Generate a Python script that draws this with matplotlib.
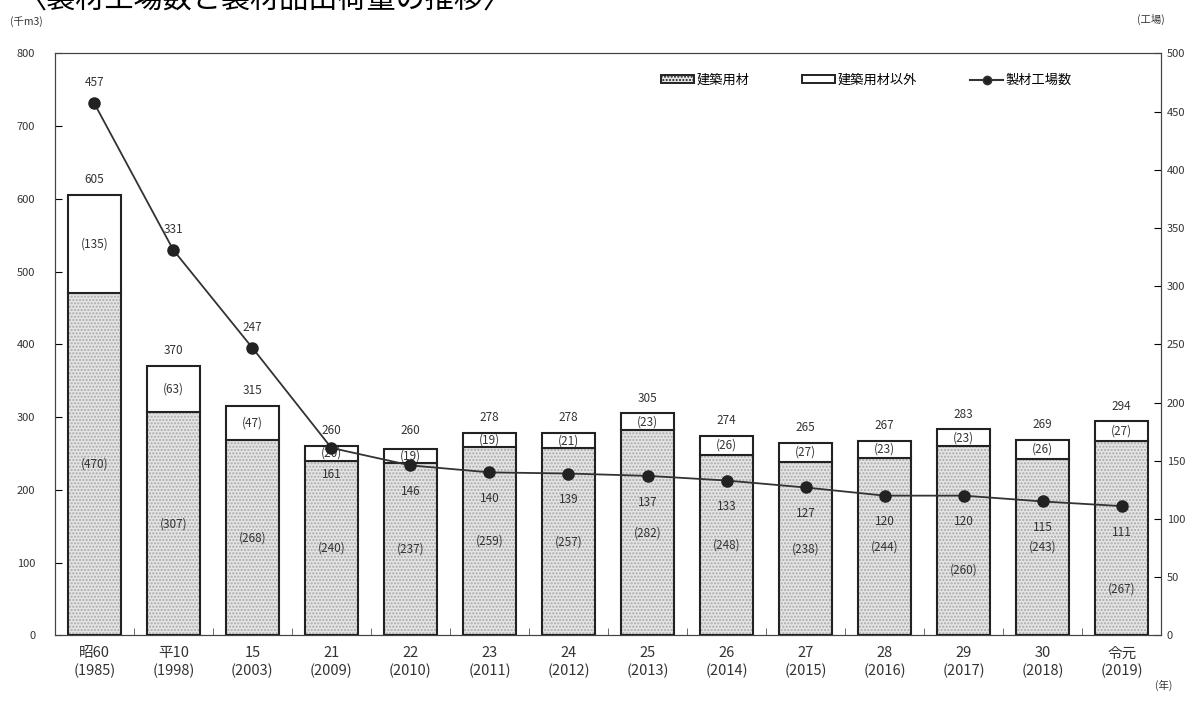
import matplotlib.pyplot as plt
from matplotlib.patches import Patch
from matplotlib.lines import Line2D

plt.rcParams['font.family'] = ['Noto Sans CJK JP', 'DejaVu Sans']

years = ["昭60\n(1985)", "平10\n(1998)", "15\n(2003)", "21\n(2009)", "22\n(2010)", "23\n(2011)", "24\n(2012)",
         "25\n(2013)", "26\n(2014)", "27\n(2015)", "28\n(2016)", "29\n(2017)", "30\n(2018)", "令元\n(2019)"]
building = [470, 307, 268, 240, 237, 259, 257, 282, 248, 238, 244, 260, 243, 267]
other = [135, 63, 47, 20, 19, 19, 21, 23, 26, 27, 23, 23, 26, 27]
totals = [605, 370, 315, 260, 260, 278, 278, 305, 274, 265, 267, 283, 269, 294]
factories = [457, 331, 247, 161, 146, 140, 139, 137, 133, 127, 120, 120, 115, 111]

x = list(range(len(years)))
fig = plt.figure(figsize=(11.91, 7.02), dpi=100)
ax = fig.add_axes([0.046, 0.095, 0.929, 0.829])
ax2 = ax.twinx()

w = 0.67
# hatched body without outline, then outline on top
ax.bar(x, building, w, color='#e4e4e4', edgecolor='#a8a8a8', hatch='.....', linewidth=0, zorder=2)
ax.bar(x, building, w, fill=False, edgecolor='#222222', linewidth=1.5, zorder=3)
ax.bar(x, other, w, bottom=building, color='white', edgecolor='#222222', linewidth=1.5, zorder=3)

ax.set_xlim(-0.5, len(years) - 0.5)
ax.set_ylim(0, 800)
ax.set_yticks(range(0, 801, 100))
ax2.set_ylim(0, 500)
ax2.set_yticks(range(0, 501, 50))

ax.set_xticks(x)
ax.set_xticklabels(years, fontsize=10.5, color='#333333', linespacing=1.3)
ax.set_xticks([i + 0.5 for i in x[:-1]], minor=True)
ax.tick_params(axis='x', which='major', length=0, pad=8)
ax.tick_params(axis='x', which='minor', length=5, direction='in', color='#555555')
ax.tick_params(axis='y', length=5, direction='in', labelsize=8, labelcolor='#333333', pad=14)
ax2.tick_params(axis='y', length=5, direction='in', labelsize=8, labelcolor='#333333', pad=4)
for a in (ax, ax2):
    for s in a.spines.values():
        s.set_color('#444444')
        s.set_linewidth(0.8)

# shifts for building labels that would sit under the line
build_shift = {11: -40, 13: -70}
for i in x:
    ax.text(i, totals[i] + 12, str(totals[i]), ha='center', va='bottom', fontsize=8.5, color='#333333', zorder=5)
    ax.text(i, building[i] + other[i] / 2, f"({other[i]})", ha='center', va='center', fontsize=8.5,
            color='#333333', zorder=5)
    ax.text(i, building[i] / 2 + build_shift.get(i, 0), f"({building[i]})", ha='center', va='center',
            fontsize=8.5, color='#333333', zorder=5)

ax2.plot(x, factories, color='#333333', linewidth=1.3, marker='o', markersize=8,
         markerfacecolor='#222222', markeredgecolor='#222222', zorder=6)
for i in x:
    if i < 3:
        ax2.text(i, factories[i] + 12, str(factories[i]), ha='center', va='bottom', fontsize=8.5, color='#333333')
    else:
        ax2.text(i, factories[i] - 17, str(factories[i]), ha='center', va='top', fontsize=8.5, color='#333333')
ax.set_zorder(1)
ax2.set_zorder(2)
ax.patch.set_visible(False)

handles = [Patch(facecolor='#e4e4e4', edgecolor='#222222', hatch='.....', linewidth=1.4),
           Patch(facecolor='white', edgecolor='#222222', linewidth=1.4),
           Line2D([0], [0], color='#333333', marker='o', markersize=6, markerfacecolor='#222222')]
ax2.legend(handles, ['建築用材', '建築用材以外', '製材工場数'], ncol=3, loc='upper right',
           bbox_to_anchor=(0.93, 0.985), frameon=False, fontsize=9.5, handlelength=2.5,
           handleheight=0.6, columnspacing=4, handletextpad=0.2)

fig.text(0.015, 1.0, '〈製材工場数と製材品出荷量の推移〉', fontsize=21, va='center', ha='left')
fig.text(0.008, 0.965, '(千m3)', fontsize=7.5, color='#333333')
fig.text(0.955, 0.968, '(工場)', fontsize=7.5, color='#333333')
fig.text(0.97, 0.018, '(年)', fontsize=7.5, color='#333333')

fig.savefig('out.png')
